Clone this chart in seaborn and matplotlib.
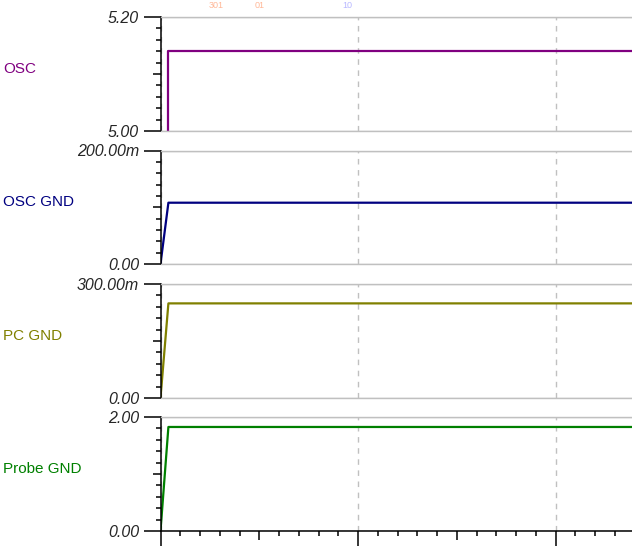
import matplotlib
matplotlib.use("Agg")
import seaborn as sns
import matplotlib.pyplot as plt
from matplotlib.ticker import FixedLocator, NullFormatter

# dados (eixo x sem rótulos, escala arbitrária)
osc_t = [0.038, 0.038, 2.4]
osc_v = [5.00, 5.141, 5.141]
gnd_t = [0.0, 0.040, 2.4]
osc_gnd_v = [0.0, 0.108, 0.108]
pc_gnd_v = [0.0, 0.249, 0.249]
probe_gnd_v = [0.0, 1.825, 1.825]

names = ["OSC", "OSC GND", "PC GND", "Probe GND"]
colors = ["#800080", "#000080", "#808000", "#008000"]
ylims = [(5.00, 5.20), (0.0, 0.200), (0.0, 0.300), (0.0, 2.00)]
ylabels = [("5.00", "5.20"), ("0.00", "200.00m"), ("0.00", "300.00m"), ("0.00", "2.00")]
series = [(osc_t, osc_v), (gnd_t, osc_gnd_v), (gnd_t, pc_gnd_v), (gnd_t, probe_gnd_v)]
cursor_labels = [("301", 209, "#ffb898"), ("01", 255, "#ffb898"), ("10", 342, "#b8b8ff")]

sns.set_style("white")
plt.rcParams["font.family"] = ["Liberation Sans", "DejaVu Sans"]

W, H = 632, 546
fig = plt.figure(figsize=(W / 100, H / 100), dpi=100)

# (topo, base) de cada painel em pixels
panels = [(17, 131), (150.5, 264), (284, 398), (417, 531)]
left = 160.5
xmax = (W - left) / 197.5
grid_c = "#c0c0c0"

for i, (top, bot) in enumerate(panels):
    ax = fig.add_axes([left / W, 1 - bot / H, 1 - left / W, (bot - top) / H])
    t, v = series[i]
    sns.lineplot(x=t, y=v, ax=ax, color=colors[i], linewidth=1.6,
                 estimator=None, sort=False)
    lo, hi = ylims[i]
    ax.set_xlim(0, xmax)
    ax.set_ylim(lo, hi)
    ax.set_xlabel("")
    ax.set_ylabel("")

    # eixo y
    ax.yaxis.set_major_locator(FixedLocator([lo, hi]))
    ax.set_yticklabels(list(ylabels[i]), fontsize=11.5, style="italic")
    step = (hi - lo) / 10
    ax.yaxis.set_minor_locator(FixedLocator([lo + k * step for k in range(1, 10) if k != 5]))
    ax.tick_params(axis="y", which="major", direction="out", length=12.5, width=1.1,
                   pad=3, color="black", left=True)
    ax.tick_params(axis="y", which="minor", direction="out", length=3.3, width=1.1,
                   color="black", left=True)
    # tick do meio, um pouco maior
    sy = ax.secondary_yaxis("left")
    sy.yaxis.set_major_locator(FixedLocator([(lo + hi) / 2]))
    sy.yaxis.set_major_formatter(NullFormatter())
    sy.yaxis.set_minor_locator(FixedLocator([]))
    sy.tick_params(axis="y", which="major", direction="out", length=6, width=1.1, color="black")
    sy.spines["left"].set_visible(False)

    # eixo x
    ax.xaxis.set_major_locator(FixedLocator([0, 1, 2]))
    minors = [k / 10 for k in range(1, 24) if k % 5 != 0]
    ax.xaxis.set_minor_locator(FixedLocator(minors))
    ax.set_xticklabels([])
    if i == 3:
        ax.tick_params(axis="x", which="major", direction="out", length=12, width=1.1,
                       color="black", bottom=True)
        ax.tick_params(axis="x", which="minor", direction="out", length=3.6, width=1.1,
                       color="black", bottom=True)
        sx = ax.secondary_xaxis("bottom")
        sx.xaxis.set_major_locator(FixedLocator([0.5, 1.5]))
        sx.xaxis.set_major_formatter(NullFormatter())
        sx.xaxis.set_minor_locator(FixedLocator([]))
        sx.tick_params(axis="x", which="major", direction="out", length=6.5, width=1.1,
                       color="black")
        sx.spines["bottom"].set_visible(False)
        ax.spines["bottom"].set_color("black")
        ax.spines["bottom"].set_linewidth(1.1)
    else:
        ax.tick_params(axis="x", which="both", length=0, bottom=False)
        ax.spines["bottom"].set_color(grid_c)
        ax.spines["bottom"].set_linewidth(1)

    ax.yaxis.grid(True, which="major", color=grid_c, linewidth=1, linestyle="-")
    ax.xaxis.grid(True, which="major", color=grid_c, linewidth=1, linestyle=(0, (4, 4)))
    ax.set_axisbelow(True)

    ax.spines["top"].set_color(grid_c)
    ax.spines["top"].set_linewidth(1)
    ax.spines["right"].set_visible(False)
    ax.spines["left"].set_color("black")
    ax.spines["left"].set_linewidth(1.1)

    ax.text(3 / W, 1 - ((top + bot) / 2 - 5) / H, names[i], transform=fig.transFigure,
            color=colors[i], fontsize=11, ha="left", va="center")

for txt, px, c in cursor_labels:
    fig.text(px / W, 1 - 5 / H, txt, color=c, fontsize=6.5, ha="left", va="center")

plt.savefig("out.png", dpi=100)
